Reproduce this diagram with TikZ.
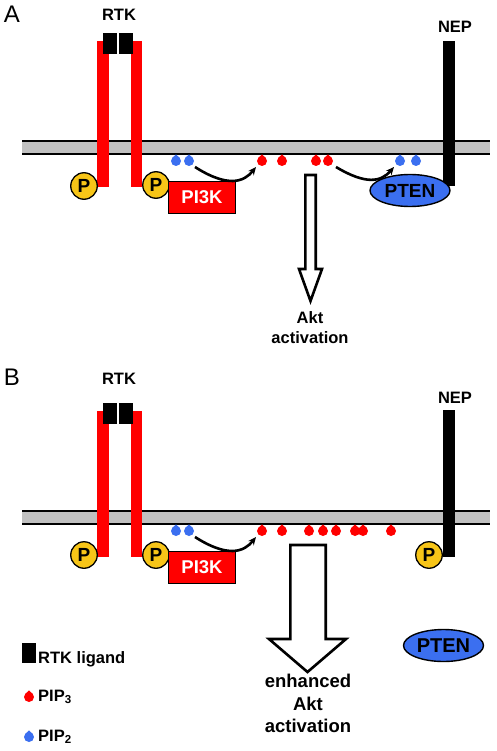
\documentclass[tikz,border=0pt]{standalone}
\usepackage{fontspec}
\setmainfont{Liberation Sans}
\usetikzlibrary{arrows.meta,calc,shapes.geometric}
\definecolor{memgray}{HTML}{C0C0C0}
\definecolor{rtkred}{HTML}{FF0000}
\definecolor{pipblue}{HTML}{3B6FF0}
\definecolor{pgold}{HTML}{F7C518}
\tikzset{
  membrane/.style={fill=memgray,draw=none},
  memline/.style={line width=1.8pt,black},
  redbar/.style={fill=rtkred,draw=none},
  ligand/.style={fill=black,draw=none},
  pcircle/.style={circle,fill=pgold,draw=black,line width=1.3pt,minimum size=26.5pt,inner sep=0pt,font=\fontsize{19}{19}\selectfont\bfseries},
  pibox/.style={rectangle,fill=rtkred,draw=black,line width=1.4pt,minimum width=67pt,minimum height=32pt,inner sep=0pt,text=white,font=\fontsize{18.5}{18.5}\selectfont\bfseries},
  ptenshape/.style={ellipse,fill=pipblue,draw=black,line width=1.4pt,minimum width=80pt,minimum height=32pt,inner sep=0pt,font=\fontsize{19}{19}\selectfont\bfseries},
  lbl/.style={inner sep=0pt,font=\fontsize{16.5}{16.5}\selectfont\bfseries},
  biglbl/.style={inner sep=0pt,font=\fontsize{18.5}{18.5}\selectfont\bfseries},
  panel/.style={inner sep=0pt,anchor=base,font=\fontsize{24}{24}\selectfont},
  curvearrow/.style={line width=2.6pt,-{Stealth[length=8pt,width=7pt]}},
  hollow/.style={fill=white,draw=black,line width=2.6pt,line join=miter},
}
\newcommand{\pdrop}[4]{\fill[#3] (#1,#2) circle (5);
  \fill[#3] ($(#1,#2)+(-3.2,-3.6)$) -- ($(#1,#2)+(0,-6.6)$) -- ($(#1,#2)+(3.2,-3.6)$) -- cycle;
  \coordinate (#4) at (#1,#2);}
\begin{document}
\begin{tikzpicture}[x=1pt,y=-1pt]
\useasboundingbox (0,0) rectangle (496,751);
\fill[white] (0,0) rectangle (496,751);
% ================= Panel A =================
\node[panel] (labA) at (12,23) {A};
\node[lbl,anchor=base] (rtkA) at (119,21) {RTK};
\node[lbl,anchor=base] (nepA) at (455,33) {NEP};
% membrane
\fill[membrane] (22,141) rectangle (490,154);
\draw[memline] (22,141) -- (490,141);
\draw[memline] (22,154) -- (490,154);
% RTK
\fill[redbar] (97,41) rectangle (109,187);
\fill[redbar] (131,41) rectangle (142,187);
\fill[ligand] (103,33) rectangle (117,54);
\fill[ligand] (119,33) rectangle (133,54);
% NEP
\fill[black] (443,41) rectangle (455,186);
% P circles
\node[pcircle] (pA1) at (84,186) {P};
\node[pcircle] (pA2) at (156,185) {P};
% PI3K
\node[pibox] (pi3kA) at (202,197.5) {PI3K};
% PTEN
\node[ptenshape] (ptenA) at (410,190.5) {PTEN};
% dots
\pdrop{176}{161}{pipblue}{bA1}
\pdrop{189}{161}{pipblue}{bA2}
\pdrop{262}{161}{rtkred}{rA1}
\pdrop{282}{161}{rtkred}{rA2}
\pdrop{316}{161}{rtkred}{rA3}
\pdrop{328}{161}{rtkred}{rA4}
\pdrop{400}{161}{pipblue}{bA3}
\pdrop{416}{161}{pipblue}{bA4}
% curved arrows
\coordinate (a1s) at (195,167);
\coordinate (a1e) at (256,167);
\draw[curvearrow] (a1s) .. controls (228,188) and (244,182) .. (a1e);
\coordinate (a2s) at (336,167);
\coordinate (a2e) at (394,167);
\draw[curvearrow] (a2s) .. controls (366,185) and (381,182) .. (a2e);
% hollow arrow
\draw[hollow] (305.3,175) -- (315.7,175) -- (315.7,269) -- (322,269) -- (310.5,301) -- (299,269) -- (305.3,269) -- cycle;
\node[lbl,anchor=base] (aktA) at (310,323) {Akt};
\node[lbl,anchor=base] (actA) at (310,343) {activation};
% ================= Panel B =================
\node[panel] (labB) at (12,385) {B};
\node[lbl,anchor=base] (rtkB) at (119,384) {RTK};
\node[lbl,anchor=base] (nepB) at (455,403) {NEP};
\fill[membrane] (22,511) rectangle (490,524);
\draw[memline] (22,511) -- (490,511);
\draw[memline] (22,524) -- (490,524);
\fill[redbar] (97,410.5) rectangle (109,557);
\fill[redbar] (131,410.5) rectangle (142,557);
\fill[ligand] (103,403) rectangle (117,424);
\fill[ligand] (119,403) rectangle (133,424);
\fill[black] (443,410) rectangle (455,557);
\node[pcircle] (pB1) at (84,555) {P};
\node[pcircle] (pB2) at (156,555) {P};
\node[pcircle] (pB3) at (429,555) {P};
\node[pibox] (pi3kB) at (202,567.5) {PI3K};
\pdrop{176}{531}{pipblue}{bB1}
\pdrop{189}{531}{pipblue}{bB2}
\pdrop{262}{531}{rtkred}{rB1}
\pdrop{282}{531}{rtkred}{rB2}
\pdrop{309}{531}{rtkred}{rB3}
\pdrop{323}{531}{rtkred}{rB4}
\pdrop{336}{531}{rtkred}{rB5}
\pdrop{355}{531}{rtkred}{rB6}
\pdrop{363}{531}{rtkred}{rB7}
\pdrop{391}{531}{rtkred}{rB8}
\coordinate (b1s) at (195,537);
\coordinate (b1e) at (256,537);
\draw[curvearrow] (b1s) .. controls (228,558) and (244,552) .. (b1e);
\draw[hollow] (290.3,545) -- (325.7,545) -- (325.7,639) -- (346,639) -- (307.5,672) -- (269,639) -- (290.3,639) -- cycle;
\node[biglbl,anchor=base] (enhB) at (308,687) {enhanced};
\node[biglbl,anchor=base] (aktB) at (308,710) {Akt};
\node[biglbl,anchor=base] (actB) at (308,732) {activation};
\node[ptenshape,font=\fontsize{20}{20}\selectfont\bfseries] (ptenB) at (443.5,645.5) {PTEN};
% ================= Legend =================
\fill[black] (22,643) rectangle (36,663);
\node[lbl,anchor=base west] (legRTK) at (38,663) {RTK ligand};
\pdrop{29}{697}{rtkred}{legR}
\node[lbl,anchor=base west] (legPIP3) at (38,701) {PIP\textsubscript{3}};
\pdrop{29}{737}{pipblue}{legB}
\node[lbl,anchor=base west] (legPIP2) at (38,741) {PIP\textsubscript{2}};
\end{tikzpicture}
\end{document}
